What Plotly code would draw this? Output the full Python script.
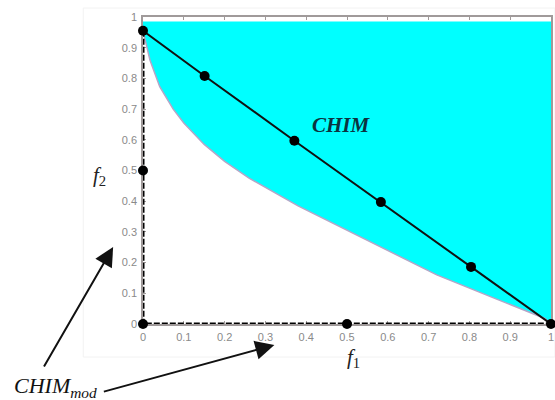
import plotly.graph_objects as go

# Lower boundary of the attainable region (f1, f2)
curve_f1 = [0.0, 0.017, 0.041, 0.074, 0.10, 0.15, 0.20, 0.26, 0.38, 0.50, 0.62, 0.72, 0.85, 0.985, 1.0]
curve_f2 = [0.955, 0.86, 0.773, 0.70, 0.655, 0.585, 0.53, 0.475, 0.385, 0.305, 0.225, 0.16, 0.09, 0.018, 0.0]
region_top = 0.985

# CHIM points (convex hull of individual minima)
chim_f1 = [0.0, 0.151, 0.371, 0.583, 0.804, 1.0]
chim_f2 = [0.955, 0.808, 0.597, 0.397, 0.186, 0.0]

# Points on the modified hull (axes)
mod_f1 = [0.0, 0.0, 0.5]
mod_f2 = [0.5, 0.0, 0.0]

# Dashed modified hull
mod_line_f1 = [0.0, 0.0, 1.0]
mod_line_f2 = [0.955, 0.0, 0.0]

ticks = [0, 0.1, 0.2, 0.3, 0.4, 0.5, 0.6, 0.7, 0.8, 0.9, 1]
tick_text = ["0", "0.1", "0.2", "0.3", "0.4", "0.5", "0.6", "0.7", "0.8", "0.9", "1"]

# Plot area in figure pixels
L, R, T, B = 143, 553, 17, 324
W, H = 555, 400


def px(xp):
    return (xp - L) / (R - L)


def py(yp):
    return (B - yp) / (B - T)


fig = go.Figure()

# Cyan attainable region
fig.add_trace(go.Scatter(
    x=curve_f1 + [1.0, 0.0],
    y=curve_f2 + [region_top, region_top],
    fill="toself", fillcolor="#00ffff", mode="lines",
    line=dict(width=0), hoverinfo="skip", showlegend=False,
))
# Boundary curve
fig.add_trace(go.Scatter(
    x=curve_f1, y=curve_f2, mode="lines",
    line=dict(color="#b4a6c8", width=1.5), showlegend=False,
))
# Dashed CHIM_mod along the axes
fig.add_trace(go.Scatter(
    x=mod_line_f1, y=mod_line_f2, mode="lines",
    line=dict(color="black", width=3, dash="6px,2px"),
    showlegend=False, cliponaxis=False,
))
# CHIM line with points
fig.add_trace(go.Scatter(
    x=chim_f1, y=chim_f2, mode="lines+markers",
    line=dict(color="#111111", width=2),
    marker=dict(color="black", size=10),
    showlegend=False, cliponaxis=False,
))
fig.add_trace(go.Scatter(
    x=mod_f1, y=mod_f2, mode="markers",
    marker=dict(color="black", size=10),
    showlegend=False, cliponaxis=False,
))

axis_common = dict(
    range=[0, 1], tickvals=ticks, ticktext=tick_text,
    showgrid=False, zeroline=False, showline=True, mirror="ticks",
    linecolor="#a09a9a", linewidth=1.5, ticks="inside", ticklen=3,
    tickcolor="#a09a9a", layer="below traces",
    tickfont=dict(family="Liberation Sans, Arial", size=11, color="#8a8a8a"),
)
fig.update_xaxes(**axis_common, ticklabelstandoff=2)
fig.update_yaxes(**axis_common, ticklabelstandoff=2)

serif = "Liberation Serif, Times New Roman, serif"
annotations = [
    dict(x=px(342), y=py(125), xref="paper", yref="paper", text="<i><b>CHIM</b></i>",
         showarrow=False, font=dict(family=serif, size=21, color="#0b3340")),
    dict(x=px(91), y=py(176), xref="paper", yref="paper",
         text="<i>f</i><sub>2</sub>", showarrow=False,
         font=dict(family=serif, size=21, color="#222222")),
    dict(x=px(355), y=py(373), xref="paper", yref="paper",
         text="<i>f</i><sub>1</sub>", showarrow=False,
         font=dict(family=serif, size=21, color="#222222")),
    dict(x=px(11), y=py(403), xref="paper", yref="paper", xanchor="left",
         text="<i>CHIM</i><sub><i>mod</i></sub>", showarrow=False,
         font=dict(family=serif, size=22, color="#111111")),
    # Arrows from the CHIM_mod label towards the two axes
    dict(x=px(113), y=py(247), xref="paper", yref="paper",
         ax=43 - 113, ay=368 - 247, axref="pixel", ayref="pixel",
         text="", showarrow=True, arrowhead=2, arrowsize=1.9, arrowwidth=2,
         arrowcolor="#111111"),
    dict(x=px(275), y=py(345), xref="paper", yref="paper",
         ax=103 - 275, ay=392 - 345, axref="pixel", ayref="pixel",
         text="", showarrow=True, arrowhead=2, arrowsize=1.9, arrowwidth=2,
         arrowcolor="#111111"),
]

fig.update_layout(
    width=W, height=H,
    margin=dict(l=L, r=W - R, t=T, b=H - B),
    paper_bgcolor="white", plot_bgcolor="white",
    annotations=annotations,
    shapes=[dict(type="rect", xref="paper", yref="paper",
                 x0=px(83), x1=px(557), y0=py(357), y1=py(8),
                 line=dict(color="#f2f2f2", width=1), layer="below")],
)

fig.write_html("out.html")
